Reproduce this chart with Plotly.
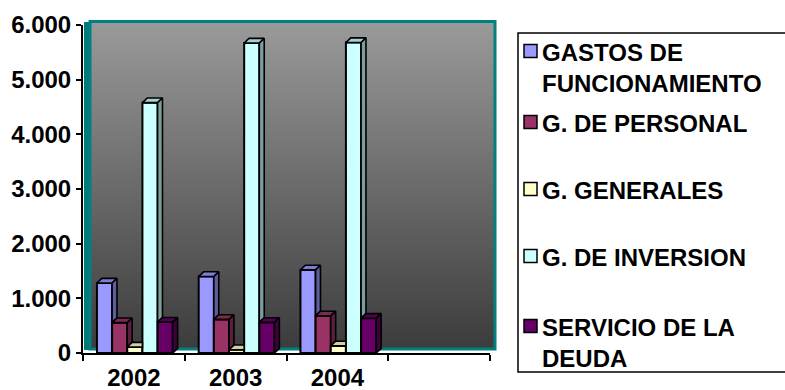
import base64
import plotly.graph_objects as go

# ---- data -------------------------------------------------------------
years = ["2002", "2003", "2004"]
series_names = [
    "GASTOS DE<br>FUNCIONAMIENTO",
    "G. DE PERSONAL",
    "G. GENERALES",
    "G. DE INVERSION",
    "SERVICIO DE LA<br>DEUDA",
]
gastos_funcionamiento = [1280, 1400, 1520]
g_personal = [555, 615, 680]
g_generales = [110, 60, 130]
g_inversion = [4580, 5670, 5680]
servicio_deuda = [565, 560, 635]
y_tick_values = [0, 1000, 2000, 3000, 4000, 5000, 6000]

series_values = [gastos_funcionamiento, g_personal, g_generales,
                 g_inversion, servicio_deuda]

# ---- style ------------------------------------------------------------
series_colors = ["#9999FF", "#993366", "#FFFFCC", "#CCFFFF", "#660066"]
FONT = "Liberation Sans, Arial, sans-serif"
FONT_SIZE = 24
W, H = 785, 390
N_SLOTS = 4                     # three years plus one empty slot
AX_L, AX_R, AX_T, AX_B = 83, 490, 25, 353      # front axis frame (px)
WL, WR, WT, WB = 90, 495, 21.5, 349            # back wall (px)
BAR_W = 0.149                   # bar width in category units
GROUP_START = 0.137             # first bar offset from slot boundary
DX = 0.048                      # 3-D depth, category units
DY = 85                         # 3-D depth, value units


def px(x):
    return x / W


def py(y):
    return 1 - y / H


def shade(hex_color, f):
    h = hex_color.lstrip("#")
    r, g, b = (int(h[i:i + 2], 16) for i in (0, 2, 4))
    return "#%02x%02x%02x" % (int(r * f), int(g * f), int(b * f))


fig = go.Figure()

# ---- bars: front faces -----------------------------------------------
positions = []
for k, (vals, color) in enumerate(zip(series_values, series_colors)):
    xs = [i - 0.5 + GROUP_START + k * BAR_W + BAR_W / 2 for i in range(len(years))]
    positions.append(xs)
    fig.add_trace(go.Bar(
        x=xs, y=vals, width=BAR_W, xaxis="x2", yaxis="y2",
        marker=dict(color=color, line=dict(color="black", width=2)),
        name=series_names[k].replace("<br>", " "),
        showlegend=False, hoverinfo="skip",
    ))

# ---- bars: side and top faces ----------------------------------------
for k, (vals, color) in enumerate(zip(series_values, series_colors)):
    for i, v in enumerate(vals):
        xc = positions[k][i]
        x0, x1 = xc - BAR_W / 2, xc + BAR_W / 2
        nxt = series_values[k + 1][i] if k + 1 < len(series_values) else 0
        # top face (its right part hides behind a taller neighbour)
        if nxt > v:
            top_x = [x0, x0 + DX, x1, x1, x0]
        else:
            top_x = [x0, x0 + DX, x1 + DX, x1, x0]
        top_y = [v, v + DY, v + DY, v, v]
        fig.add_trace(go.Scatter(
            x=top_x, y=top_y, xaxis="x2", yaxis="y2", mode="lines",
            fill="toself", fillcolor=shade(color, 0.82),
            line=dict(color="black", width=1.6),
            showlegend=False, hoverinfo="skip",
        ))
        # side face, visible only above the next bar
        if nxt < v:
            b = max(nxt, 0)
            fig.add_trace(go.Scatter(
                x=[x1, x1 + DX, x1 + DX, x1, x1],
                y=[b, b + DY, v + DY, v, b],
                xaxis="x2", yaxis="y2", mode="lines",
                fill="toself", fillcolor=shade(color, 0.62),
                line=dict(color="black", width=1.6),
                showlegend=False, hoverinfo="skip",
            ))

# ---- back wall gradient ----------------------------------------------
svg = (
    '<svg xmlns="http://www.w3.org/2000/svg" width="100" height="100" '
    'preserveAspectRatio="none">'
    '<defs><linearGradient id="g" x1="0" y1="0" x2="0" y2="1">'
    '<stop offset="0" stop-color="#9a9a9a"/>'
    '<stop offset="1" stop-color="#3c3c3c"/>'
    '</linearGradient></defs>'
    '<rect width="100" height="100" fill="url(#g)"/></svg>'
)
wall_src = "data:image/svg+xml;base64," + base64.b64encode(svg.encode()).decode()

shapes = [
    # side wall edge
    dict(type="rect", xref="paper", yref="paper", layer="below",
         x0=px(84), x1=px(90), y0=py(350), y1=py(22),
         fillcolor="#007a7a", line=dict(width=0)),
    # wall border
    dict(type="rect", xref="paper", yref="paper", layer="below",
         x0=px(WL), x1=px(WR), y0=py(WB), y1=py(WT),
         line=dict(color="#008080", width=3)),
]

# ---- legend ------------------------------------------------------------
legend_rows = [51, 122, 189, 256, 326]
LEG_L, LEG_T, LEG_B = 518, 33, 372
shapes.append(dict(type="rect", xref="paper", yref="paper",
                   x0=px(LEG_L), x1=px(W + 5), y0=py(LEG_B), y1=py(LEG_T),
                   line=dict(color="black", width=1.5), fillcolor="white",
                   layer="below"))
annotations = []
for name, color, yc in zip(series_names, series_colors, legend_rows):
    shapes.append(dict(type="rect", xref="paper", yref="paper",
                       x0=px(524), x1=px(537), y0=py(yc + 6.5), y1=py(yc - 6.5),
                       fillcolor=color, line=dict(color="black", width=1.5)))
    annotations.append(dict(
        text="<b>%s</b>" % name, xref="paper", yref="paper",
        x=px(540), y=py(yc - 14.5), xanchor="left", yanchor="top",
        align="left", showarrow=False,
        font=dict(family=FONT, size=FONT_SIZE, color="black"),
    ))

fig.update_layout(
    width=W, height=H, autosize=False,
    margin=dict(l=0, r=0, t=0, b=0, pad=0, autoexpand=False),
    paper_bgcolor="white", plot_bgcolor="rgba(0,0,0,0)",
    separators=",.",
    barmode="overlay",
    font=dict(family=FONT, size=FONT_SIZE, color="black"),
    images=[dict(source=wall_src, xref="paper", yref="paper",
                 x=px(WL), y=py(WT), sizex=px(WR) - px(WL),
                 sizey=py(WT) - py(WB), sizing="stretch",
                 xanchor="left", yanchor="top", layer="below")],
    shapes=shapes,
    annotations=annotations,
    # back wall axes (grid lines only)
    xaxis=dict(domain=[px(WL), px(WR)], range=[0, 1], visible=False,
               fixedrange=True, automargin=False),
    yaxis=dict(domain=[py(WB), py(WT)], range=[0, 6000],
               tickvals=y_tick_values, showgrid=True, gridcolor="black",
               gridwidth=2, showticklabels=False, ticks="",
               zeroline=False, showline=False, fixedrange=True,
               automargin=False),
    # front value / category axes
    xaxis2=dict(domain=[px(AX_L), px(AX_R)], range=[-0.5, N_SLOTS - 0.5],
                anchor="y2", tickvals=list(range(len(years))),
                ticktext=["<b>%s</b>" % y for y in years],
                ticks="outside", ticklen=0, showgrid=False, zeroline=False,
                showline=True, linecolor="black", linewidth=2,
                ticklabelstandoff=2, automargin=False,
                minor=dict(tickvals=[i - 0.5 for i in range(N_SLOTS + 1)],
                           ticks="outside", ticklen=6, tickwidth=2,
                           tickcolor="black", showgrid=False),
                fixedrange=True),
    yaxis2=dict(domain=[py(AX_B), py(AX_T)], range=[0, 6000], anchor="x2",
                tickvals=y_tick_values,
                ticktext=["<b>%s</b>" % f"{v:,}".replace(",", ".") for v in y_tick_values],
                ticks="outside", ticklen=5, tickwidth=2, tickcolor="black",
                showgrid=False, zeroline=False, showline=True,
                linecolor="black", linewidth=2, fixedrange=True,
                automargin=False),
)

fig.write_html("out.html")
